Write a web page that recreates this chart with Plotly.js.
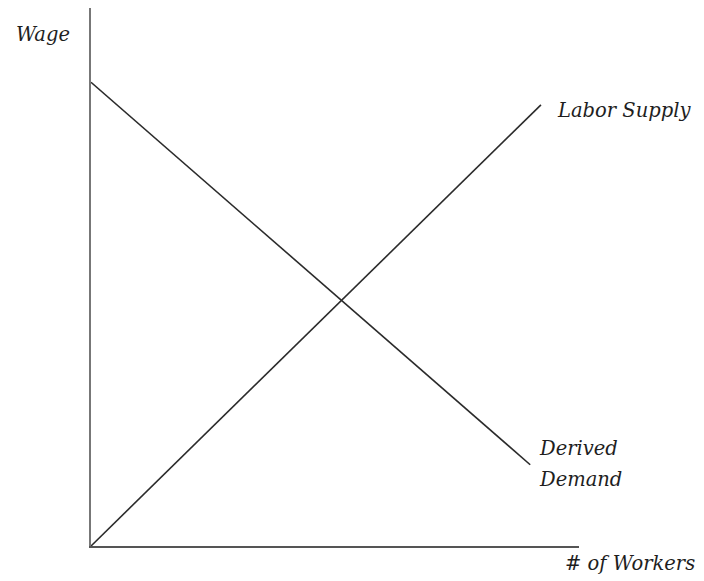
<!DOCTYPE html>
<html>
<head>
<meta charset="utf-8">
<script src="https://cdn.plot.ly/plotly-3.0.1.min.js"></script>
<style>html,body{margin:0;padding:0;background:#fff;}#chart{width:704px;height:581px;}</style>
</head>
<body>
<div id="chart"></div>
<script>
// Data (arbitrary units)
const demandX = [0, 9.0];
const demandY = [8.62, 1.51];
const supplyX = [0, 9.22];
const supplyY = [0, 8.20];
const labels = {
  yTitle: "Wage",
  xTitle: "# of Workers",
  supply: "Labor Supply",
  demand1: "Derived",
  demand2: "Demand"
};

const lineStyle = {color: '#2b2b2b', width: 1.6};
const traces = [
  {x: demandX, y: demandY, mode: 'lines', line: lineStyle, hoverinfo: 'skip'},
  {x: supplyX, y: supplyY, mode: 'lines', line: lineStyle, hoverinfo: 'skip'}
];

const font = {family: 'DejaVu Serif', size: 19.5, color: '#1e1e1e'};
function ann(text, x, y, xanchor) {
  return {text: '<i>' + text + '</i>', x: x, y: y, xref: 'paper', yref: 'paper',
    xanchor: xanchor, yanchor: 'middle', showarrow: false, font: font};
}

const layout = {
  width: 704, height: 581,
  margin: {l: 91, r: 125, t: 8, b: 35},
  paper_bgcolor: '#fff', plot_bgcolor: '#fff',
  showlegend: false,
  xaxis: {range: [0, 10], showline: true, linecolor: '#555', linewidth: 2,
    showgrid: false, zeroline: false, showticklabels: false, ticks: '', fixedrange: true},
  yaxis: {range: [0, 10], showline: true, linecolor: '#777', linewidth: 2,
    showgrid: false, zeroline: false, showticklabels: false, ticks: '', fixedrange: true},
  annotations: [
    ann(labels.yTitle, -0.098, 0.950, 'center'),
    ann(labels.supply, 0.951, 0.8086, 'left'),
    ann(labels.demand1, 0.914, 0.182, 'left'),
    ann(labels.demand2, 0.914, 0.1227, 'left'),
    ann(labels.xTitle, 0.967, -0.0316, 'left')
  ]
};

Plotly.newPlot('chart', traces, layout, {displayModeBar: false, staticPlot: true});
</script>
</body>
</html>
